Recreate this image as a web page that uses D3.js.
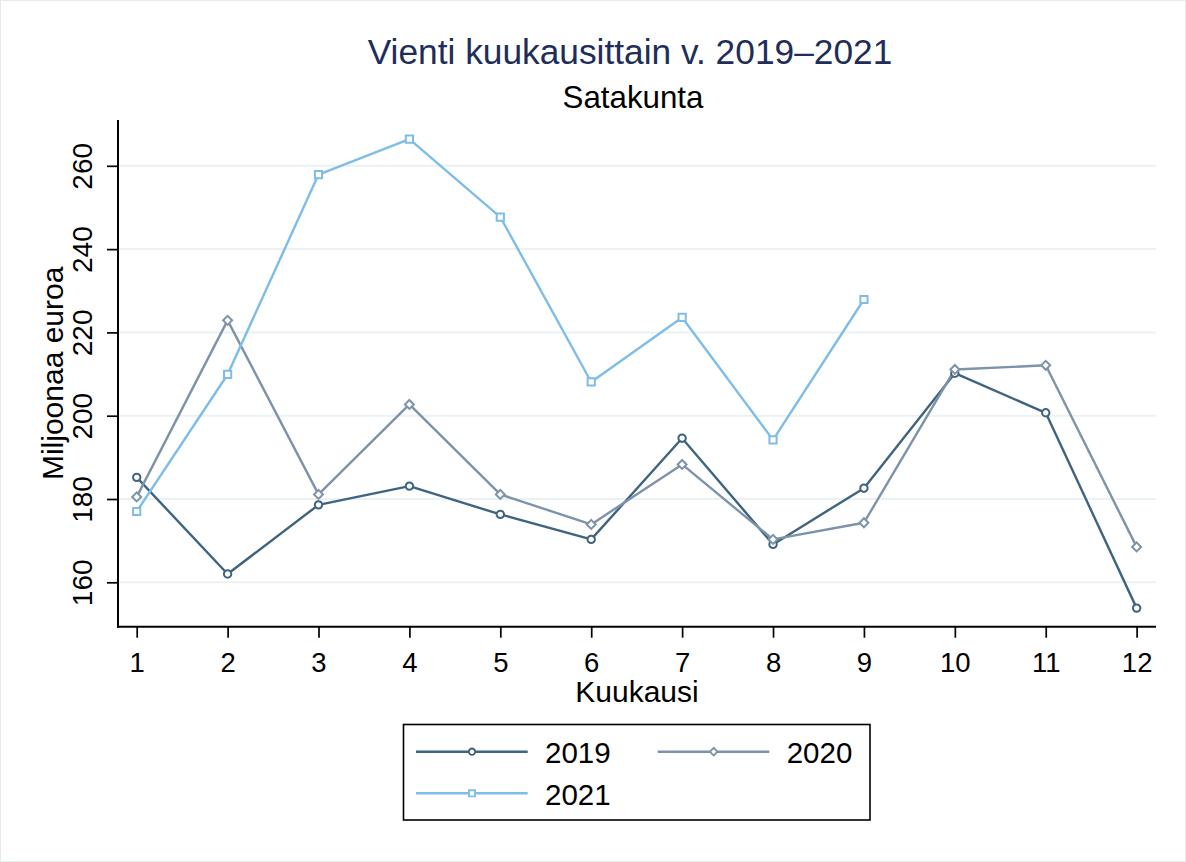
<!DOCTYPE html>
<html>
<head>
<meta charset="utf-8">
<script src="https://cdn.jsdelivr.net/npm/d3@7"></script>
<style>
  html, body { margin: 0; padding: 0; background: #fff; }
  svg { display: block; font-family: "Liberation Sans", Arial, Helvetica, sans-serif; }
</style>
</head>
<body>
<svg id="chart" width="1186" height="862"></svg>
<script>
// ---- Data ----
const months = [1, 2, 3, 4, 5, 6, 7, 8, 9, 10, 11, 12];
const values2019 = [185.2, 162.0, 178.6, 183.1, 176.3, 170.3, 194.6, 169.1, 182.6, 210.2, 200.7, 153.8];
const values2020 = [180.5, 222.9, 181.1, 202.7, 181.1, 173.9, 188.3, 170.3, 174.3, 211.1, 212.1, 168.5];
const values2021 = [177.0, 209.9, 257.9, 266.4, 247.7, 208.1, 223.6, 194.2, 227.9];
const seriesNames = ["2019", "2020", "2021"];
const yTicks = [160, 180, 200, 220, 240, 260];
const xTicks = months;
const titleText = "Vienti kuukausittain v. 2019–2021";
const subtitleText = "Satakunta";
const xLabel = "Kuukausi";
const yLabel = "Miljoonaa euroa";

// ---- Layout / style ----
const colors = ["#3f6480", "#7d93aa", "#7dbde8"];
const symbols = ["circle", "diamond", "square"];
const plot = { left: 118, right: 1156, top: 120, bottom: 626.7 };

const svg = d3.select("#chart");

// outer frame
svg.append("rect").attr("x", 0.5).attr("y", 0.5).attr("width", 1185).attr("height", 861)
  .attr("fill", "#fff").attr("stroke", "#e3ebef").attr("stroke-width", 1);

const x = d3.scaleLinear().domain([0.7943, 12.213]).range([plot.left, plot.right]);
const y = d3.scaleLinear().domain([149.34, 271.0]).range([plot.bottom, plot.top]);

// gridlines
svg.append("g").selectAll("line").data(yTicks).join("line")
  .attr("x1", plot.left).attr("x2", plot.right)
  .attr("y1", d => y(d)).attr("y2", d => y(d))
  .attr("stroke", "#eaf2f5").attr("stroke-width", 2);

// Y axis
const yAxis = svg.append("g").attr("transform", `translate(${plot.left},0)`)
  .call(d3.axisLeft(y).tickValues(yTicks).tickSize(11).tickFormat(d3.format("d")));
yAxis.select(".domain").remove();
yAxis.selectAll(".tick line").attr("stroke", "#000").attr("stroke-width", 1.7);
yAxis.selectAll(".tick text")
  .attr("x", null).attr("dy", null)
  .attr("transform", "translate(-26,0) rotate(-90)")
  .attr("text-anchor", "middle")
  .attr("font-size", 28).attr("fill", "#000");

// X axis
const xAxis = svg.append("g").attr("transform", `translate(0,${plot.bottom})`)
  .call(d3.axisBottom(x).tickValues(xTicks).tickSize(11).tickPadding(4).tickFormat(d3.format("d")));
xAxis.select(".domain").remove();
xAxis.selectAll(".tick line").attr("stroke", "#000").attr("stroke-width", 1.7);
xAxis.selectAll(".tick text").attr("dy", null).attr("y", 45)
  .attr("font-size", 27.5).attr("fill", "#000");

// axis lines
svg.append("line").attr("x1", plot.left).attr("x2", plot.left)
  .attr("y1", plot.top).attr("y2", plot.bottom + 1)
  .attr("stroke", "#000").attr("stroke-width", 2);
svg.append("line").attr("x1", plot.left - 1).attr("x2", plot.right)
  .attr("y1", plot.bottom).attr("y2", plot.bottom)
  .attr("stroke", "#000").attr("stroke-width", 2);

// symbol helper
function symbolPath(kind) {
  if (kind === "circle") return d3.symbol().type(d3.symbolCircle).size(Math.PI * 3.7 * 3.7)();
  if (kind === "square") return d3.symbol().type(d3.symbolSquare).size(52)();
  return d3.symbol().type(d3.symbolSquare).size(40)();
}
function symbolRotate(kind) { return kind === "diamond" ? " rotate(45)" : ""; }

// series
const allSeries = [values2019, values2020, values2021];
const line = d3.line().x((d, i) => x(months[i])).y(d => y(d));

allSeries.forEach((vals, si) => {
  svg.append("path").datum(vals)
    .attr("d", line).attr("fill", "none")
    .attr("stroke", colors[si]).attr("stroke-width", 2.4)
    .attr("stroke-linejoin", "round");
});
allSeries.forEach((vals, si) => {
  svg.append("g").selectAll("path").data(vals).join("path")
    .attr("d", symbolPath(symbols[si]))
    .attr("transform", (d, i) => `translate(${x(months[i])},${y(d)})${symbolRotate(symbols[si])}`)
    .attr("fill", "#fff").attr("stroke", colors[si]).attr("stroke-width", 2);
});

// titles
svg.append("text").attr("x", 630).attr("y", 63.5).attr("text-anchor", "middle")
  .attr("font-size", 35.3).attr("fill", "#1e2d59").text(titleText);
svg.append("text").attr("x", 633).attr("y", 108.3).attr("text-anchor", "middle")
  .attr("font-size", 31.3).attr("fill", "#000").text(subtitleText);

// axis titles
svg.append("text").attr("x", (plot.left + plot.right) / 2).attr("y", 702)
  .attr("text-anchor", "middle").attr("font-size", 30).attr("fill", "#000").text(xLabel);
svg.append("text")
  .attr("transform", `translate(63,${(plot.top + plot.bottom) / 2}) rotate(-90)`)
  .attr("text-anchor", "middle").attr("font-size", 30).attr("fill", "#000").text(yLabel);

// legend
const legend = svg.append("g");
legend.append("rect").attr("x", 403.5).attr("y", 724.5).attr("width", 466.5).attr("height", 95.5)
  .attr("fill", "#fff").attr("stroke", "#000").attr("stroke-width", 1.6);
const legendCols = [416, 657.7];
const legendRows = [751.7, 793.3];
seriesNames.forEach((name, i) => {
  const cx = legendCols[i % 2];
  const cy = legendRows[Math.floor(i / 2)];
  const g = legend.append("g");
  g.append("line").attr("x1", cx).attr("x2", cx + 111.7).attr("y1", cy).attr("y2", cy)
    .attr("stroke", colors[i]).attr("stroke-width", 2.4);
  g.append("path").attr("d", symbolPath(symbols[i]))
    .attr("transform", `translate(${cx + 56},${cy}) scale(0.85)${symbolRotate(symbols[i])}`)
    .attr("fill", "#fff").attr("stroke", colors[i]).attr("stroke-width", 2.2);
  g.append("text").attr("x", cx + 129).attr("y", cy + 11.5)
    .attr("font-size", 29.5).attr("fill", "#000").text(name);
});
</script>
</body>
</html>
